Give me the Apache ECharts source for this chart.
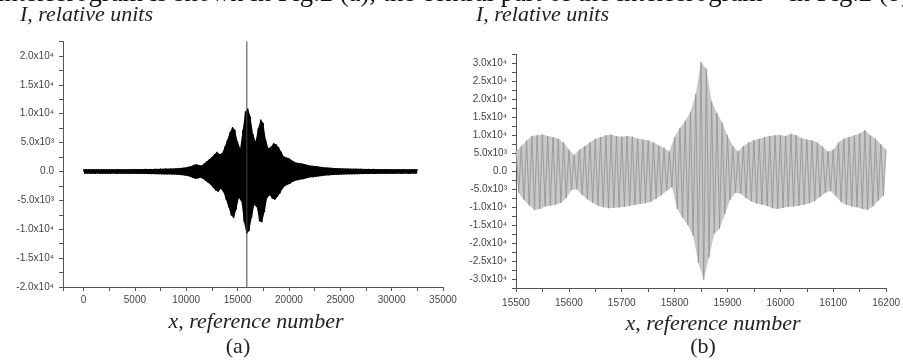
<!DOCTYPE html>
<html><head><meta charset="utf-8">
<script src="https://cdn.jsdelivr.net/npm/echarts@6/dist/echarts.min.js"></script>
<style>html,body{margin:0;padding:0;background:#fff}#c{width:903px;height:360px}</style>
</head><body><div id="c"></div>
<script>
// ---------- DATA ----------
// Panel (a): full interferogram, envelope maxima (at 0,250,500,...) and minima (at 125,375,...)
const leftStart = 0, leftStep = 250;
const leftUpper = [380,400,370,390,380,400,370,390,380,400,390,380,400,380,390,400,380,400,410,390,
  410,400,420,400,430,410,440,420,460,440,480,460,500,490,520,510,540,570,610,660,
  730,830,950,1150,1250,1100,1050,1400,1750,2100,2500,3000,3400,3000,3200,4300,5500,6800,7700,7200,
  5200,4000,7200,10400,10900,9500,6500,5200,7500,9000,8400,5500,4000,4300,4900,4700,4200,3400,2600,2400,
  2300,2000,1700,1500,1450,1400,1300,1150,1050,1000,950,900,820,760,700,680,650,620,590,570,
  550,530,510,500,490,480,470,460,450,440,430,440,420,430,410,420,400,410,390,400,
  390,400,380,390,380,400,370,390,380,390,380];
const leftLower = [-390,-370,-400,-380,-390,-370,-400,-380,-390,-380,-400,-370,-390,-400,-380,-390,-400,-390,-400,-410,
  -400,-420,-410,-430,-420,-440,-450,-440,-470,-460,-490,-480,-510,-500,-530,-540,-560,-600,-650,-710,
  -790,-900,-1100,-1250,-1200,-1050,-1250,-1600,-1950,-2300,-2800,-3300,-3500,-3000,-3600,-4900,-6200,-7600,-8100,-6600,
  -4600,-5200,-8800,-10800,-10300,-8000,-5800,-6200,-8600,-8800,-7000,-4600,-4100,-4700,-4900,-4400,-3800,-3000,-2500,-2300,
  -2100,-1800,-1600,-1500,-1400,-1350,-1200,-1100,-1000,-980,-920,-850,-800,-730,-690,-660,-630,-600,-580,-560,
  -540,-520,-500,-490,-480,-470,-460,-450,-440,-430,-420,-430,-410,-420,-400,-410,-390,-400,-390,-400,
  -380,-390,-370,-390,-380,-370,-390,-380,-370,-390];
const spikeX = 15900;
const spikeValues = [22500, -20000];

// Panel (b): central part, maxima (at 15500,15510,...) and minima (at 15505,15515,...)
const rightStart = 15500, rightStep = 10;
const rightUpper = [5500,7000,8500,9800,10000,10200,9800,9500,9000,8000,
  6000,4500,6000,7000,8000,9000,9500,10000,10200,9800,
  9600,9800,9600,9000,8800,8600,8000,7200,6500,5500,
  9500,12000,14000,16500,21500,30400,28500,19500,16200,13500,
  10000,7000,5500,7000,8000,8600,9000,9500,9800,10000,
  10100,9800,10400,10000,9200,8800,8600,8000,6800,5500,
  6000,8000,9000,9500,10000,10500,11400,10000,9000,7500,6000];
const rightLower = [-6000,-8000,-9500,-10800,-10500,-9800,-9600,-9300,-8800,-7500,
  -5200,-5000,-6600,-7800,-8800,-9600,-10000,-10300,-10200,-10100,
  -9900,-9700,-9400,-9100,-8900,-8500,-7700,-6700,-5500,-4500,
  -10500,-13000,-15000,-18000,-25500,-30300,-24000,-17500,-16000,-12000,
  -8000,-6000,-6200,-7500,-8400,-9000,-9300,-9700,-10300,-10500,
  -10200,-9900,-9800,-9600,-9300,-8900,-8300,-7200,-6000,-5500,
  -7000,-8600,-9400,-9800,-10000,-10500,-10800,-9800,-8200,-6800];

// Tick labels
const leftXTicks = [0,5000,10000,15000,20000,25000,30000,35000];
const rightXTicks = [15500,15600,15700,15800,15900,16000,16100,16200];
const leftYTicks = [-20000,-15000,-10000,-5000,0,5000,10000,15000,20000];
const leftYLabels = ['-2.0x10\u2074','-1.5x10\u2074','-1.0x10\u2074','-5.0x10\u00b3','0.0','5.0x10\u00b3','1.0x10\u2074','1.5x10\u2074','2.0x10\u2074'];
const rightYTicks = [-30000,-25000,-20000,-15000,-10000,-5000,0,5000,10000,15000,20000,25000,30000];
const rightYLabels = ['-3.0x10\u2074','-2.5x10\u2074','-2.0x10\u2074','-1.5x10\u2074','-1.0x10\u2074','-5.0x10\u00b3','0.0','5.0x10\u00b3','1.0x10\u2074','1.5x10\u2074','2.0x10\u2074','2.5x10\u2074','3.0x10\u2074'];

// ---------- BUILD ----------
function zig(start, step, up, lo) {
  const d = [];
  for (let i = 0; i < up.length; i++) {
    d.push([start + i * step, up[i]]);
    if (i < lo.length) d.push([start + i * step + step / 2, lo[i]]);
  }
  return d;
}
const leftData = zig(leftStart, leftStep, leftUpper, leftLower);
const rightData = zig(rightStart, rightStep, rightUpper, rightLower);

function bandSeries(xi, start, step, up, lo, fill) {
  return {
    type: 'custom', xAxisIndex: xi, yAxisIndex: xi, silent: true, clip: true,
    data: [[start, 0]],
    renderItem: function (params, api) {
      const pts = [];
      for (let i = 0; i < up.length; i++) pts.push(api.coord([start + i * step, up[i]]));
      for (let i = lo.length - 1; i >= 0; i--) pts.push(api.coord([start + i * step + step / 2, lo[i]]));
      return {type: 'polygon', shape: {points: pts}, style: {fill: fill, stroke: null}};
    }
  };
}

const axisCol = '#555';
const lblStyle = {color: '#444', fontSize: 10, fontFamily: 'Liberation Sans, Arial, sans-serif'};
function mapLabel(ticks, labels) {
  return v => { const k = ticks.indexOf(Math.round(v)); return k < 0 ? '' : labels[k]; };
}
function baseAxis() {
  return {
    type: 'value',
    axisLine: {show: true, onZero: false, lineStyle: {color: axisCol, width: 1}},
    axisTick: {show: true, inside: false, length: 4, lineStyle: {color: axisCol}},
    splitLine: {show: false}
  };
}

const chart = echarts.init(document.getElementById('c'), null, {renderer: 'canvas'});
const serif = 'Liberation Serif, Times New Roman, serif';
chart.setOption({
  animation: false,
  backgroundColor: '#fff',
  grid: [
    {left: 63, top: 41.5, width: 380, height: 245.5},
    {left: 516, top: 54.4, width: 373, height: 233.6}
  ],
  xAxis: [
    Object.assign(baseAxis(), {gridIndex: 0, min: -2000, max: 35000, minInterval: 2500, maxInterval: 2500,
      axisLabel: Object.assign({margin: 8, formatter: mapLabel(leftXTicks, leftXTicks.map(String))}, lblStyle)}),
    Object.assign(baseAxis(), {gridIndex: 1, min: 15500, max: 16200, interval: 50,
      axisLabel: Object.assign({margin: 10, formatter: mapLabel(rightXTicks, rightXTicks.map(String))}, lblStyle)})
  ],
  yAxis: [
    Object.assign(baseAxis(), {gridIndex: 0, min: -20000, max: 22500, interval: 2500,
      axisLabel: Object.assign({margin: 9, formatter: mapLabel(leftYTicks, leftYLabels)}, lblStyle)}),
    Object.assign(baseAxis(), {gridIndex: 1, min: -32500, max: 32500, interval: 2500,
      axisLabel: Object.assign({margin: 9, formatter: mapLabel(rightYTicks, rightYLabels)}, lblStyle)})
  ],
  series: [
    bandSeries(0, leftStart, leftStep, leftUpper, leftLower, '#000'),
    {type: 'line', xAxisIndex: 0, yAxisIndex: 0, data: leftData, showSymbol: false, symbol: 'none',
      sampling: null, lineStyle: {color: '#000', width: 1.2}, silent: true, clip: true},
    {type: 'line', xAxisIndex: 0, yAxisIndex: 0, data: spikeValues.map(v => [spikeX, v]), showSymbol: false, symbol: 'none',
      lineStyle: {color: '#444', width: 1}, silent: true, clip: true},
    bandSeries(1, rightStart, rightStep, rightUpper, rightLower, '#c8c8c8'),
    {type: 'line', xAxisIndex: 1, yAxisIndex: 1, data: rightData, showSymbol: false, symbol: 'none',
      sampling: null, lineStyle: {color: '#929292', width: 0.8}, silent: true, clip: true}
  ],
  graphic: [
    {type: 'text', left: -3, top: -19, style: {text: 'interferogram is shown in Fig.2 (a), the central part of the interferogram \u2013 in Fig.2 (b)',
      font: '26.6px ' + serif, fill: '#111'}},
    {type: 'text', left: 20, top: 4, style: {text: 'I, relative units', font: 'italic 22px ' + serif, fill: '#222'}},
    {type: 'text', left: 476, top: 4, style: {text: 'I, relative units', font: 'italic 22px ' + serif, fill: '#222'}},
    {type: 'text', x: 256, y: 322, style: {text: 'x, reference number', font: 'italic 22px ' + serif, fill: '#222', align: 'center', verticalAlign: 'middle'}},
    {type: 'text', x: 713, y: 324, style: {text: 'x, reference number', font: 'italic 22px ' + serif, fill: '#222', align: 'center', verticalAlign: 'middle'}},
    {type: 'text', x: 238, y: 347, style: {text: '(a)', font: '22px ' + serif, fill: '#222', align: 'center', verticalAlign: 'middle'}},
    {type: 'text', x: 703, y: 347, style: {text: '(b)', font: '22px ' + serif, fill: '#222', align: 'center', verticalAlign: 'middle'}}
  ]
});
</script></body></html>
